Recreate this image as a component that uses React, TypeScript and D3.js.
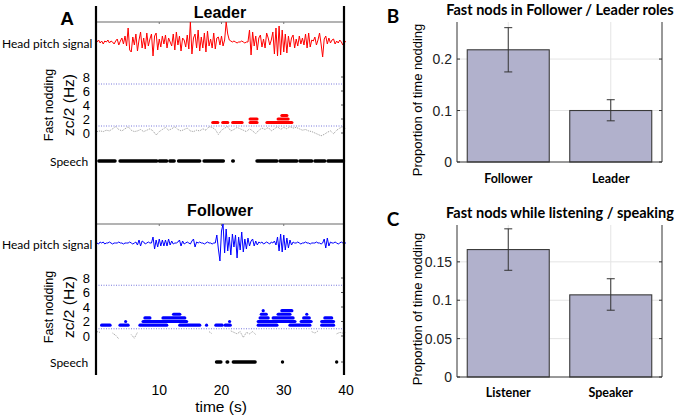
import React from 'react';
import * as d3 from 'd3';

// ---------- Panel A data ----------
const timeTicks = [10, 20, 30, 40];
const nodTicks = [0, 2, 4, 6, 8];
const nodThresholds = [1, 7];
const pitchStep = 0.25; // seconds between pitch samples
const zcStep = 0.5; // seconds between zc/2 samples

const leaderPitch = [
  0, 2, -1, 1, -2, 1, 0, 2, -1, 1, 0, -2, 1,
  3, -3, 1, 4, -2, 6, -4,
  14, -8, -10, 5, -3, 8, -9, 2,
  10, -6, 4, -7, 9, -4, 3, 8,
  -14, 6, 9, -8, 3, -5, 6, -2,
  7, -6, 4, 0, -4, 8, -8, 10,
  -3, 6, -9, 4, 2, -5, 7, -7,
  20, -12, 4, 8, -6, 12, -9, 5,
  -6, 9, -10, 11, -4, 3, -6, 9,
  -7, 4, 5, -3, 6, -4, 2, 20,
  8, 2, 1, 0, 1, 0, -1, 0,
  0, 1, 0, -1, 0, 0, 12, -13,
  10, -4, 6, -8, 4, 7, -5, 3,
  -6, 9, 4, -3, 2, 10, -12, 14,
  -14, 16, -13, 12, -10, 8, -11, 6,
  -5, 4, 7, -6, 3, -4, 6, -2,
  4, -3, 8, -6, 9, -5, 2, 1,
  5, -3, 2, 9, -2, -15, 3, 6,
  -2, 4, -1, 2, 3, -2, 1, -1,
  2, 0, -3, 1, 0,
];

const followerPitch = [
  0, -1, 1, 0, 1, -1, 0, 0, 1, 0, -1, 0, 0,
  0, 1, 0, 0, -1, 0, 0,
  0, 1, 0, -1, 0, 1, -2, 3,
  -3, 2, 1, -1, 0, 1, 0, 0,
  6, -6, 3, -4, 4, -3, 3, -3,
  3, -3, 4, -2, 2, -1, 0, 0,
  1, 3, -3, 2, -1, 0, 1, 0,
  -1, 2, 4, -4, 1, 0, 1, 0,
  0, -1, 0, 1, 0, 0, -1, 0,
  0, 8, -6, -18, 12, 19, -10, 14,
  -8, 6, -12, 9, -4, 8, -15, 6,
  -7, 11, -9, 4, -6, 5, -3, 2,
  4, -3, 2, -2, 1, 0, 1, -1,
  0, 1, 0, -1, 1, 0, 2, -2,
  6, -8, 9, -9, 8, -7, 5, -5,
  3, -2, 1, 0, 0, 1, 0, -1,
  0, 0, 1, 0, 0, -1, 0, 0,
  0, 1, 0, 0, -1, 0, 4, -5,
  5, -3, 1, 0, 0, 1, 0, -1,
  0, 1, 0, 0, 0,
];

const leaderZc: (number | null)[] = [
  0.2, 0.3, 0.2, 0.4, 0.3, 0.6, 0.9, 0.5, 0.3, 0.6,
  0.9, 0.4, 0.2, 0.3, 0.5, 0.2, 0.4, 0.6, 0.3, -0.3,
  0.2, 0.5, 0.8, 0.4, 0.6, 0.9, 0.5, 0.3, 0.5, 0.7,
  0.3, 0.2, 0.4, 0.3, 0.6, 0.4, 0.9, 0.8, 0.5, -0.2,
  0.4, 0.7, 0.9, 0.3, 0.5, 0.8, 0.6, 0.4, 0.2, 0.6,
  0.3, -0.1, 0.4, 0.7, 0.5, 0.8, 0.3, 0.6, 0.9, 0.5,
  0.8, 0.6, 0.9, 0.7, 0.8, 0.6, 0.4, 0.5, 0.3, 0.2,
  0, -0.2, -0.4, -0.2, 0.1, 0.3, -0.1, 0.4, 0.7, 0.9,
  0.6,
];

const followerZc: (number | null)[] = [
  0.6, 0.5, null, null, null, 0.4, 0.1, -0.4, null, null,
  null, 0.2, -0.3, 0.5, null, null, null, null, null, null,
  null, null, null, null, null, null, null, null, null, null,
  null, null, null, null, 0.8, null, 0.6, 0.3, null, null,
  null, null, null, 0.7, 0.5, 0.3, 0.6, -0.2, 0.5, 0.3,
  0.6, 0.2, null, null, null, null, null, null, null, null,
  null, null, null, null, null, null, null, null, null, 0.6,
  0.4, 0.7, null, null, null, null, null, 0.3, 0.5, 0.4,
  0.5,
];

// fast-nod episodes: [start s, end s, zc/2 level Hz]
const leaderNods: [number, number, number][] = [
  [18.6, 19.4, 1.5], [20.2, 21.0, 1.5], [21.8, 23.3, 1.5],
  [24.6, 25.7, 1.5], [24.6, 25.7, 2], [27.3, 31.3, 1.5],
  [29.1, 30.7, 2], [29.7, 30.5, 2.5],
];
const followerNods: [number, number, number][] = [
  [0.75, 2.1, 1.5], [3.7, 5.0, 1.5], [4.6, 4.6, 2],
  [6.9, 11.2, 1.5], [7.4, 9.6, 2], [7.7, 8.5, 2.5],
  [9.6, 14.4, 2], [10.6, 14.1, 2.5], [12.3, 13.3, 3],
  [13.3, 16.5, 1.5], [17.6, 17.6, 1.5], [19.1, 20.1, 1.5],
  [20.6, 21.4, 1.5], [21.3, 21.3, 2],
  [25.9, 28.9, 1.5], [25.9, 31.8, 2], [26.2, 27.5, 2.5],
  [26.4, 27.2, 3], [26.7, 26.7, 3.5],
  [28.3, 31.5, 2.5], [29.1, 31.0, 3], [29.7, 31.3, 3.5],
  [31.0, 34.2, 1.5], [32.8, 34.4, 2], [33.2, 34.1, 2.5], [33.7, 33.7, 3],
  [36.1, 38.0, 1.5], [36.1, 38.0, 2], [36.6, 37.7, 2.5],
];

// speech intervals [start s, end s]
const leaderSpeech: [number, number][] = [
  [0.3, 2.9], [3.7, 9.6], [10.0, 11.2], [11.7, 12.4], [13.1, 16.5],
  [17.2, 20.3], [21.8, 21.9], [25.7, 28.9], [29.4, 32.1], [32.6, 34.5],
  [35.0, 36.6], [37.1, 39.6],
];
const followerSpeech: [number, number][] = [
  [19.2, 19.9], [20.9, 21.0], [21.9, 25.4], [29.8, 29.8], [38.5, 38.5],
];

// ---------- Panel B / C data ----------
const roleCats = ['Follower', 'Leader'];
const roleMeans = [0.218, 0.1];
const roleLow = [0.175, 0.08];
const roleHigh = [0.261, 0.121];
const roleTicks = [0, 0.1, 0.2];

const listenCats = ['Listener', 'Speaker'];
const listenMeans = [0.166, 0.107];
const listenLow = [0.139, 0.087];
const listenHigh = [0.193, 0.128];
const listenTicks = [0, 0.05, 0.1, 0.15];

const ARIAL = 'Liberation Sans, Arial, sans-serif';
const CALIBRI = 'Lato, Carlito, Calibri, sans-serif';

const x = d3.scaleLinear().domain([0, 40]).range([97, 346]);
const LEFT = 96;
const RIGHT = 344;

type TrackProps = {
  title: string;
  titleY: number;
  lineY: number;
  pitchBase: number;
  pitch: number[];
  color: string;
  ny0: number;
  ny8: number;
  zc: (number | null)[];
  nods: [number, number, number][];
  speech: [number, number][];
  speechY: number;
};

function Track(p: TrackProps) {
  const py = d3.scaleLinear().domain([-20, 20]).range([p.pitchBase + 20, p.pitchBase - 20]);
  const ny = d3.scaleLinear().domain([0, 8]).range([p.ny0, p.ny8]);
  const pitchLine = d3
    .line<number>()
    .x((_, i) => x(i * pitchStep))
    .y((d) => py(d))
    .curve(d3.curveLinear);
  const zcLine = d3
    .line<number | null>()
    .defined((d) => d !== null)
    .x((_, i) => x(i * zcStep))
    .y((d) => ny(d as number));
  const nodMid = (p.ny0 + p.ny8) / 2;
  return (
    <g>
      <text x={(LEFT + RIGHT) / 2} y={p.titleY} textAnchor="middle" dominantBaseline="central"
        fontFamily={ARIAL} fontWeight="bold" fontSize={16}>{p.title}</text>
      <line x1={LEFT} x2={RIGHT} y1={p.lineY} y2={p.lineY} stroke="#9a9a9a" strokeWidth={1.5} />
      {[10, 20, 30].map((t) => (
        <line key={t} x1={x(t)} x2={x(t)} y1={p.lineY} y2={p.lineY + 2} stroke="#777" strokeWidth={1} />
      ))}
      <text x={2} y={p.pitchBase + 1} dominantBaseline="central" fontFamily={CALIBRI} fontSize={12}>
        Head pitch signal
      </text>
      <path d={pitchLine(p.pitch) || ''} fill="none" stroke={p.color} strokeWidth={1} />

      {/* fast nodding axis */}
      <text transform={`translate(49,${nodMid}) rotate(-90)`} textAnchor="middle" dominantBaseline="central"
        fontFamily={ARIAL} fontSize={12.5}>Fast nodding</text>
      <text transform={`translate(68,${nodMid}) rotate(-90)`} textAnchor="middle" dominantBaseline="central"
        fontFamily={ARIAL} fontSize={15.5}>zc/2 (Hz)</text>
      {nodTicks.map((t) => (
        <g key={t}>
          <text x={90} y={ny(t)} textAnchor="end" dominantBaseline="central" fontFamily={ARIAL} fontSize={13}>
            {t}
          </text>
          <line x1={RIGHT - 3} x2={RIGHT} y1={ny(t)} y2={ny(t)} stroke="#555" strokeWidth={1} />
        </g>
      ))}
      {nodThresholds.map((t) => (
        <line key={t} x1={LEFT} x2={RIGHT} y1={ny(t)} y2={ny(t)} stroke="#6a6ad8" strokeWidth={0.9}
          strokeDasharray="1 1.5" />
      ))}
      <path d={zcLine(p.zc) || ''} fill="none" stroke="#9a9a9a" strokeWidth={1} strokeDasharray="1 1" />
      {p.nods.map((n, i) => (
        <line key={i} x1={x(n[0])} x2={x(n[1])} y1={ny(n[2])} y2={ny(n[2])} stroke={p.color}
          strokeWidth={3.2} strokeLinecap="round" />
      ))}

      {/* speech */}
      <text x={50} y={p.speechY} dominantBaseline="central" fontFamily={CALIBRI} fontSize={12}>Speech</text>
      <line x1={RIGHT - 3} x2={RIGHT} y1={p.speechY} y2={p.speechY} stroke="#555" strokeWidth={1} />
      {p.speech.map((s, i) => (
        <line key={i} x1={x(s[0])} x2={x(s[1])} y1={p.speechY} y2={p.speechY} stroke="#000"
          strokeWidth={3.4} strokeLinecap="round" />
      ))}
    </g>
  );
}

type BarProps = {
  letter: string;
  title: string;
  cats: string[];
  means: number[];
  low: number[];
  high: number[];
  ticks: number[];
  yMax: number;
  top: number;
  bottom: number;
  titleY: number;
  catY: number;
};

function BarPanel(p: BarProps) {
  const left = 457;
  const right = 662;
  const xb = d3.scaleBand<string>().domain(p.cats).range([left, right]).paddingInner(0.2).paddingOuter(0.1);
  const yb = d3.scaleLinear().domain([0, p.yMax]).range([p.bottom, p.top]);
  return (
    <g>
      <text x={393} y={p.titleY + 1} textAnchor="middle" dominantBaseline="central" fontFamily={CALIBRI}
        fontWeight="bold" fontSize={19}>{p.letter}</text>
      <text x={560} y={p.titleY - 5} textAnchor="middle" dominantBaseline="central" fontFamily={CALIBRI}
        fontWeight="bold" fontSize={14.5}>{p.title}</text>
      {/* grid */}
      {p.ticks.filter((t) => t > 0).map((t) => (
        <line key={t} x1={left} x2={right} y1={yb(t)} y2={yb(t)} stroke="#e4e4e4" strokeWidth={1} />
      ))}
      {p.cats.map((c) => (
        <line key={c} x1={(xb(c) || 0) + xb.bandwidth() / 2} x2={(xb(c) || 0) + xb.bandwidth() / 2}
          y1={p.top} y2={p.bottom} stroke="#e4e4e4" strokeWidth={1} />
      ))}
      {/* bars */}
      {p.cats.map((c, i) => (
        <rect key={c} x={xb(c)} y={yb(p.means[i])} width={xb.bandwidth()} height={p.bottom - yb(p.means[i])}
          fill="#b1b1cc" stroke="#3a3a3a" strokeWidth={1.1} />
      ))}
      {/* error bars */}
      {p.cats.map((c, i) => {
        const cx = (xb(c) || 0) + xb.bandwidth() / 2;
        return (
          <g key={c} stroke="#333" strokeWidth={1}>
            <line x1={cx} x2={cx} y1={yb(p.low[i])} y2={yb(p.high[i])} />
            <line x1={cx - 4} x2={cx + 4} y1={yb(p.low[i])} y2={yb(p.low[i])} />
            <line x1={cx - 4} x2={cx + 4} y1={yb(p.high[i])} y2={yb(p.high[i])} />
          </g>
        );
      })}
      {/* axes */}
      <line x1={left} x2={left} y1={p.top} y2={p.bottom} stroke="#333" strokeWidth={1} />
      <line x1={right} x2={right} y1={p.top} y2={p.bottom} stroke="#333" strokeWidth={1} />
      <line x1={left} x2={right} y1={p.bottom} y2={p.bottom} stroke="#333" strokeWidth={1} />
      {p.ticks.map((t) => (
        <g key={t}>
          <line x1={left} x2={left + 3} y1={yb(t)} y2={yb(t)} stroke="#333" />
          <line x1={right - 3} x2={right} y1={yb(t)} y2={yb(t)} stroke="#333" />
          <text x={452} y={yb(t)} textAnchor="end" dominantBaseline="central" fontFamily={ARIAL} fontSize={14}
            fill="#222">{String(t)}</text>
        </g>
      ))}
      {p.cats.map((c) => (
        <text key={c} x={(xb(c) || 0) + xb.bandwidth() / 2} y={p.catY} textAnchor="middle"
          dominantBaseline="central" fontFamily={CALIBRI} fontWeight="bold" fontSize={12.5}>{c}</text>
      ))}
      <text transform={`translate(417,${(p.top + p.bottom) / 2 + 8}) rotate(-90)`} textAnchor="middle"
        dominantBaseline="central" fontFamily={ARIAL} fontSize={13}>Proportion of time nodding</text>
    </g>
  );
}

export default function App() {
  return (
    <svg width={685} height={415} style={{ position: 'absolute', left: 0, top: 0, background: '#fff' }}>
      <rect width={685} height={415} fill="#fff" />
      <text x={67} y={18} textAnchor="middle" dominantBaseline="central" fontFamily={ARIAL} fontWeight="bold"
        fontSize={19}>A</text>
      <Track title="Leader" titleY={12} lineY={22} pitchBase={42} pitch={leaderPitch} color="#ff0000"
        ny0={133} ny8={77} zc={leaderZc} nods={leaderNods} speech={leaderSpeech} speechY={161} />
      <Track title="Follower" titleY={210} lineY={224} pitchBase={243} pitch={followerPitch} color="#0000ff"
        ny0={336} ny8={278} zc={followerZc} nods={followerNods} speech={followerSpeech} speechY={362} />
      {/* frame of panel A */}
      <line x1={LEFT} x2={LEFT} y1={6} y2={375} stroke="#000" strokeWidth={2.2} />
      <line x1={RIGHT} x2={RIGHT} y1={6} y2={375} stroke="#000" strokeWidth={2.2} />
      {timeTicks.map((t) => (
        <text key={t} x={x(t)} y={390} textAnchor="middle" dominantBaseline="central" fontFamily={ARIAL}
          fontSize={14}>{t}</text>
      ))}
      <text x={221} y={406} textAnchor="middle" dominantBaseline="central" fontFamily={ARIAL} fontSize={15.5}>
        time (s)
      </text>

      <BarPanel letter="B" title="Fast nods in Follower / Leader roles" cats={roleCats} means={roleMeans}
        low={roleLow} high={roleHigh} ticks={roleTicks} yMax={0.272} top={22} bottom={162} titleY={14}
        catY={178} />
      <BarPanel letter="C" title="Fast nods while listening / speaking" cats={listenCats} means={listenMeans}
        low={listenLow} high={listenHigh} ticks={listenTicks} yMax={0.198} top={225} bottom={377}
        titleY={217} catY={392} />
    </svg>
  );
}
